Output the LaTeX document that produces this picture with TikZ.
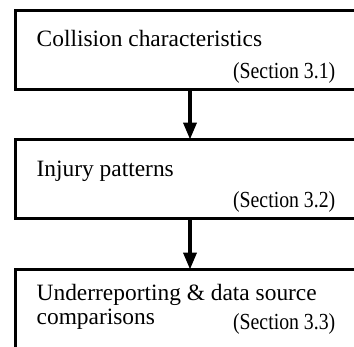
\documentclass[tikz,border=0pt]{standalone}
\usepackage{fontspec}
\setmainfont{Liberation Serif}
\newfontfamily\secfont[FakeStretch=0.86]{Liberation Serif}
\usetikzlibrary{calc, positioning, arrows.meta}

\begin{document}
\begin{tikzpicture}[x=1pt, y=1pt]
    % Define styles
    \tikzset{
        stagebox/.style={draw, line width=3.2pt, rectangle, inner sep=0pt, outer sep=0pt,
            minimum width=349pt, minimum height=79pt, anchor=north west},
        stagetext/.style={font=\fontsize{23.4}{24}\selectfont, inner sep=0pt, anchor=base west},
        sectext/.style={font=\secfont\fontsize{23}{24}\selectfont, inner sep=0pt, anchor=base east},
        flow/.style={line width=3.6pt, -{Triangle[length=17pt, width=13pt]}}
    }
    \useasboundingbox (0,0) rectangle (354,-346);

    % --- 1. Boxes ---
    \node[stagebox] (collision) at (15.5,-10.5) {};
    \node[stagebox] (injury) at (15.5,-139.5) {};
    \node[stagebox, minimum height=110pt] (underrep) at (15.5,-269.5) {};

    % --- 2. Texts ---
    \node[stagetext] (collisiontxt) at ($(collision.north west)+(21,-36)$) {Collision characteristics};
    \node[sectext] (collisionsec) at ($(collision.north west)+(320,-67.5)$) {(Section 3.1)};

    \node[stagetext] (injurytxt) at ($(injury.north west)+(21,-37)$) {Injury patterns};
    \node[sectext] (injurysec) at ($(injury.north west)+(320,-68)$) {(Section 3.2)};

    \node[stagetext] (underreptxt) at ($(underrep.north west)+(21,-31)$) {Underreporting \& data source};
    \node[stagetext] (comparetxt) at ($(underrep.north west)+(21,-55)$) {comparisons};
    \node[sectext] (underrepsec) at ($(underrep.north west)+(320,-60)$) {(Section 3.3)};

    % --- 3. Arrows ---
    \draw[flow] (collision.south) -- (injury.north);
    \draw[flow] (injury.south) -- (underrep.north);
\end{tikzpicture}
\end{document}
